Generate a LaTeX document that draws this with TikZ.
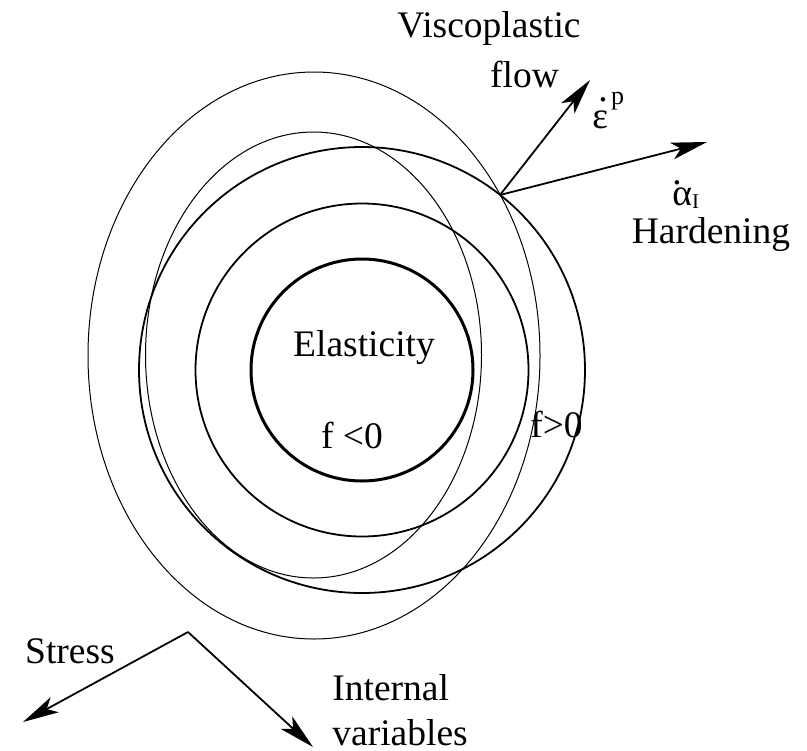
\documentclass[tikz,border=0pt]{standalone}
\usepackage{fontspec}
\setmainfont{LiberationSerif}[Extension=.ttf, UprightFont=*-Regular,
    BoldFont=*-Bold, ItalicFont=*-Italic, BoldItalicFont=*-BoldItalic]
\usetikzlibrary{arrows.meta}

\newcommand{\dotover}[2]{\makebox[0pt][l]{\hspace{#1}\raisebox{#2}{.}}}

\begin{document}
\begin{tikzpicture}[x=0.5pt, y=-0.5pt,
    font=\fontsize{18.75}{22}\selectfont,
    ring/.style={line width=0.9pt},
    thinring/.style={line width=0.5pt},
    vec/.style={line width=0.9pt, -{Stealth[length=18pt, width=8.5pt, inset=4.5pt]}}]
                \useasboundingbox (0,0) rectangle (807,750);
                % points
                \coordinate (O) at (362,370);
                \coordinate (E_1) at (313.5,355);
                \coordinate (E_2) at (314,355.5);
                \coordinate (Y) at (500,195);
                \coordinate (P) at (590,80);
                \coordinate (H) at (707,142);
                \coordinate (S) at (188,632);
                \coordinate (A) at (23,722);
                \coordinate (B) at (313,747);
                % yield surfaces
                \draw[line width=1.5pt] (O) circle [radius=111];
                \draw[ring] (O) circle [radius=166.5];
                \draw[ring] (O) circle [radius=223];
                \draw[thinring] (E_1) ellipse [x radius=168, y radius=223];
                \draw[thinring] (E_2) ellipse [x radius=226, y radius=283.5];
                % flow directions
                \draw[vec] (Y) -- (P);
                \draw[vec] (Y) -- (H);
                \draw[vec] (S) -- (A);
                \draw[vec] (S) -- (B);
                % labels
                \node[anchor=base] (visco) at (489,37) {Viscoplastic};
                \node[anchor=base] (flow) at (524.5,87) {flow};
                \node[anchor=base west, inner sep=0pt] (epsp) at (592,128)
                    {\dotover{0.16em}{0.72em}ε\hspace{0.08em}\raisebox{0.62em}{\fontsize{13}{13}\selectfont p}};
                \node[anchor=base west, inner sep=0pt] (alphai) at (672,205)
                    {\dotover{0em}{0.55em}α\raisebox{-0.08em}{\fontsize{10.5}{10.5}\selectfont I}};
                \node[anchor=base] (hard) at (711,243) {Hardening};
                \node[anchor=base] (elast) at (364,356) {Elasticity};
                \node[anchor=base] (fneg) at (352,448) {f <0};
                \node[anchor=base] (fpos) at (556.5,437) {f>0};
                \node[anchor=base] (stress) at (70,663) {Stress};
                \node[anchor=base west, inner sep=0pt] (internal) at (332,700) {Internal};
                \node[anchor=base west, inner sep=0pt] (variables) at (332,745) {variables};
\end{tikzpicture}
\end{document}
